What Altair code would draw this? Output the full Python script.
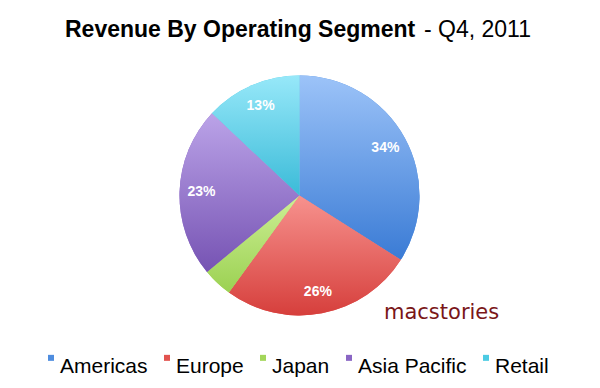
import math
import altair as alt
import pandas as pd

# ---- data ----
segments = ["Americas", "Europe", "Japan", "Asia Pacific", "Retail"]
shares = [34, 26, 4, 23, 13]
slice_labels = ["34%", "26%", "", "23%", "13%"]

legend_colors = ["#4f8ddf", "#e2534f", "#a3d65a", "#8a66c4", "#4ccbe3"]
grad_top = ["#9cc3f8", "#f7928e", "#cdef95", "#bba3e8", "#97e8f9"]
grad_bottom = ["#3a7bd5", "#d63f3c", "#9bd152", "#7653b3", "#3bbbd8"]

title_bold = "Revenue By Operating Segment"
title_rest = "- Q4, 2011"
watermark = "macstories"

df = pd.DataFrame({
    "segment": segments,
    "share": shares,
    "label": slice_labels,
    "order": list(range(len(segments))),
})

FONT = "Liberation Sans"
R = 120
theta_scale = alt.Scale(domain=[0, 100], range=[0, 2 * math.pi])

base = (
    alt.Chart(df)
    .transform_window(cum="sum(share)", sort=[alt.SortField("order")], frame=[None, 0])
    .transform_calculate(start="datum.cum - datum.share", mid="datum.cum - datum.share / 2")
)

pie = base.mark_arc(radius=R).encode(
    theta=alt.Theta("start:Q", scale=theta_scale, stack=None),
    theta2="cum:Q",
    color=alt.Color(
        "segment:N",
        scale=alt.Scale(domain=segments, range=legend_colors),
        legend=alt.Legend(
            title=None,
            orient="none",
            legendX=31,
            legendY=337,
            direction="horizontal",
            symbolType="M-0.5,-0.3H1.5V1.7H-0.5Z",
            symbolSize=36,
            symbolStrokeWidth=0,
            labelFontSize=21,
            labelFont=FONT,
            labelColor="black",
            labelOffset=0,
            columnPadding=7,
            labelBaseline="top",
        ),
    ),
)

grad_layers = []
for seg, top, bot in zip(segments, grad_top, grad_bottom):
    grad = alt.Gradient(
        gradient="linear",
        stops=[alt.GradientStop(color=top, offset=0), alt.GradientStop(color=bot, offset=1)],
        x1=0, x2=0, y1=0, y2=1,
    )
    grad_layers.append(
        base.transform_filter(alt.datum.segment == seg)
        .mark_arc(radius=R, fill=grad)
        .encode(
            theta=alt.Theta("start:Q", scale=theta_scale, stack=None),
            theta2="cum:Q",
        )
    )

labels = (
    base.transform_filter("datum.label != ''")
    .mark_text(radius=98, font=FONT, fontSize=14, fontWeight="bold", color="white")
    .encode(
        theta=alt.Theta("mid:Q", scale=theta_scale, stack=None),
        text="label:N",
    )
)

t1 = alt.Chart(pd.DataFrame({"t": [title_bold]})).mark_text(
    font=FONT, fontSize=23, fontWeight="bold", color="black", align="left", baseline="alphabetic"
).encode(text="t:N", x=alt.value(57), y=alt.value(29))

t2 = alt.Chart(pd.DataFrame({"t": [title_rest]})).mark_text(
    font=FONT, fontSize=23, color="black", align="left", baseline="alphabetic"
).encode(text="t:N", x=alt.value(416), y=alt.value(29))

wm = alt.Chart(pd.DataFrame({"t": [watermark]})).mark_text(
    font="DejaVu Sans", fontSize=21, color="#7a1618", align="left", baseline="alphabetic"
).encode(text="t:N", x=alt.value(376), y=alt.value(311))

chart = (
    alt.layer(pie, *grad_layers, labels, t1, t2, wm)
    .properties(width=583, height=375, autosize=alt.AutoSizeParams(type="none"), padding=0,
                background="white")
    .configure_view(stroke=None)
)

chart.save("out.html", embed_options={"renderer": "svg", "actions": False})
